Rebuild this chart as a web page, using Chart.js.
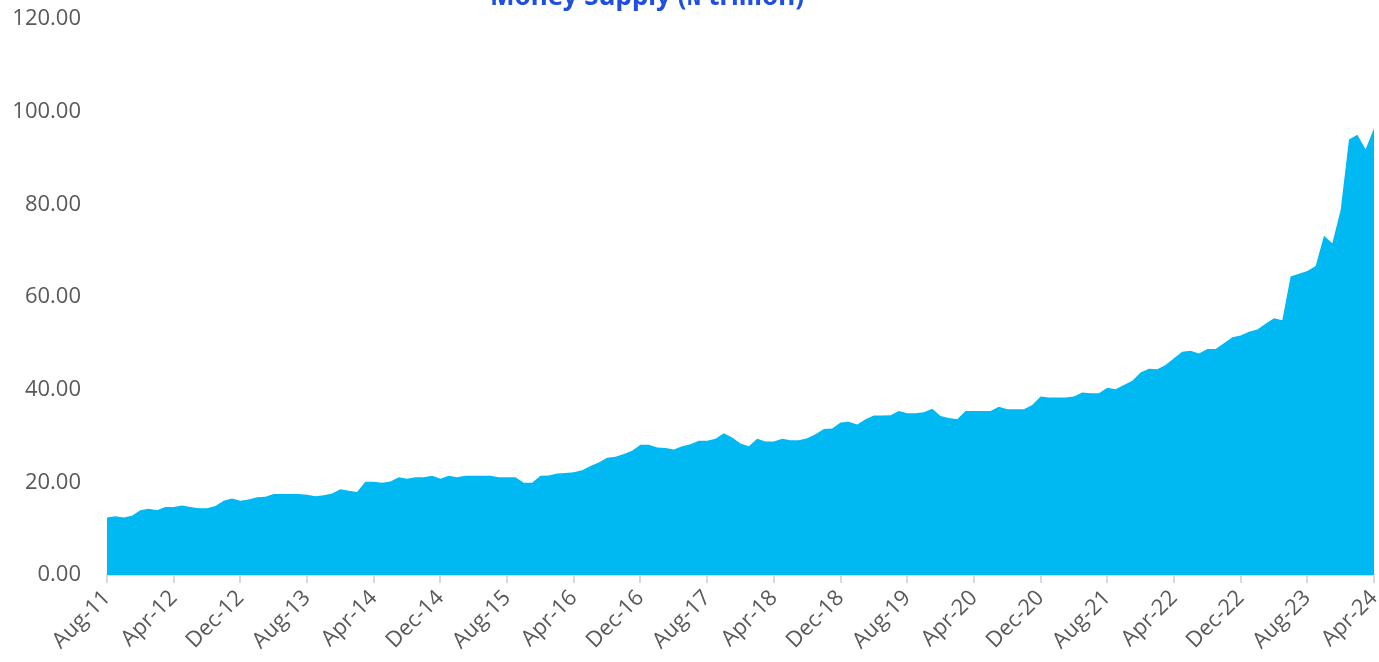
<!DOCTYPE html>
<html>
<head>
<meta charset="utf-8">
<script src="https://cdn.jsdelivr.net/npm/chart.js@4"></script>
<style>
  html, body { margin: 0; padding: 0; background: #fff; overflow: hidden; }
  #wrap { position: relative; width: 1379px; height: 662px; }
</style>
</head>
<body>
<div id="wrap"><canvas id="money-chart"></canvas></div>
<script>
var monthNames = ["Jan", "Feb", "Mar", "Apr", "May", "Jun", "Jul", "Aug", "Sep", "Oct", "Nov", "Dec"];
var startYear = 2011, startMonth = 7; // Aug-11
var moneySupply = [
  12.4, 12.7, 12.4, 12.8, 14.0, 14.3, 14.0, 14.7, 14.7, 15.0, 14.7, 14.4,
  14.4, 14.9, 16.0, 16.5, 16.0, 16.3, 16.8, 16.9, 17.5, 17.5, 17.5, 17.5,
  17.3, 17.0, 17.2, 17.6, 18.5, 18.2, 17.9, 20.1, 20.1, 19.9, 20.2, 21.1,
  20.8, 21.1, 21.1, 21.4, 20.8, 21.4, 21.1, 21.4, 21.4, 21.4, 21.4, 21.1,
  21.1, 21.1, 19.9, 19.9, 21.4, 21.5, 21.9, 22.0, 22.2, 22.6, 23.5, 24.3,
  25.3, 25.5, 26.1, 26.8, 28.1, 28.1, 27.5, 27.4, 27.1, 27.8, 28.2, 29.0,
  29.0, 29.4, 30.6, 29.7, 28.4, 27.8, 29.4, 28.8, 28.8, 29.4, 29.1, 29.1,
  29.5, 30.4, 31.5, 31.6, 32.9, 33.1, 32.5, 33.6, 34.4, 34.4, 34.5, 35.4,
  34.9, 34.9, 35.1, 35.9, 34.3, 33.9, 33.6, 35.4, 35.4, 35.4, 35.4, 36.3,
  35.8, 35.8, 35.8, 36.7, 38.5, 38.3, 38.3, 38.3, 38.5, 39.4, 39.2, 39.2,
  40.4, 40.1, 41.0, 41.9, 43.7, 44.5, 44.4, 45.3, 46.8, 48.2, 48.4, 47.8,
  48.8, 48.8, 50.0, 51.3, 51.7, 52.5, 53.0, 54.2, 55.4, 55.0, 64.4, 65.0,
  65.6, 66.7, 73.2, 71.6, 78.8, 94.0, 95.0, 91.9, 96.4
];
var yTicks = [0, 20, 40, 60, 80, 100, 120];
var tickEvery = 8; // a label every 8 months

var labels = [];
for (var i = 0; i < moneySupply.length; i++) {
  var m = (startMonth + i) % 12;
  var y = startYear + Math.floor((startMonth + i) / 12);
  labels.push(monthNames[m] + "-" + String(y).slice(2));
}

var AreaColor = "#00B8F2";
var AxisColor = "#D9D9D9";
var TextColor = "#595959";

// title sits mostly above the top edge, like in the source image
var titlePlugin = {
  id: "cutTitle",
  afterDraw: function (chart) {
    var ctx = chart.ctx;
    ctx.save();
    ctx.font = "bold 26px 'Noto Sans'";
    ctx.fillStyle = "#1F4FE0";
    ctx.textAlign = "center";
    ctx.textBaseline = "alphabetic";
    ctx.fillText("Money Supply (\u20A6 trillion)", 647, 5);
    ctx.restore();
  }
};

new Chart("money-chart", {
  type: "line",
  data: {
    labels: labels,
    datasets: [{
      label: "Money Supply",
      data: moneySupply,
      backgroundColor: AreaColor,
      borderColor: AreaColor,
      borderWidth: 0,
      pointRadius: 0,
      fill: "origin",
      tension: 0,
    }],
  },
  options: {
    responsive: true,
    maintainAspectRatio: false,
    animation: false,
    layout: { padding: { top: 0, right: 5, left: 0, bottom: 0 } },
    plugins: {
      legend: { display: false },
      title: { display: false },
      tooltip: { enabled: false },
    },
    scales: {
      x: {
        offset: false,
        border: { display: true, color: AxisColor, width: 2 },
        grid: {
          drawOnChartArea: false,
          drawTicks: true,
          tickLength: 8,
          lineWidth: 2,
          color: function (ctx) { return ctx.index % tickEvery === 0 ? AxisColor : "rgba(0,0,0,0)"; },
        },
        ticks: {
          autoSkip: false,
          minRotation: 45,
          maxRotation: 45,
          padding: 2,
          color: TextColor,
          font: { family: "'Open Sans'", size: 22 },
          callback: function (v, idx) { return idx % tickEvery === 0 ? labels[idx] : ""; },
        },
        afterFit: function (scale) {
          scale.height = 87;
          scale.paddingRight = 0;
        },
      },
      y: {
        min: 0,
        max: 120,
        border: { display: false },
        grid: { display: false, drawTicks: false },
        afterBuildTicks: function (scale) {
          scale.ticks = yTicks.map(function (v) { return { value: v }; });
        },
        ticks: {
          padding: 26,
          color: TextColor,
          font: { family: "'Open Sans'", size: 22 },
          callback: function (v) { return Number(v).toFixed(2); },
        },
        afterFit: function (scale) {
          scale.width = 107;
          scale.paddingTop = 19;
        },
      },
    },
  },
  plugins: [titlePlugin],
});
</script>
</body>
</html>
